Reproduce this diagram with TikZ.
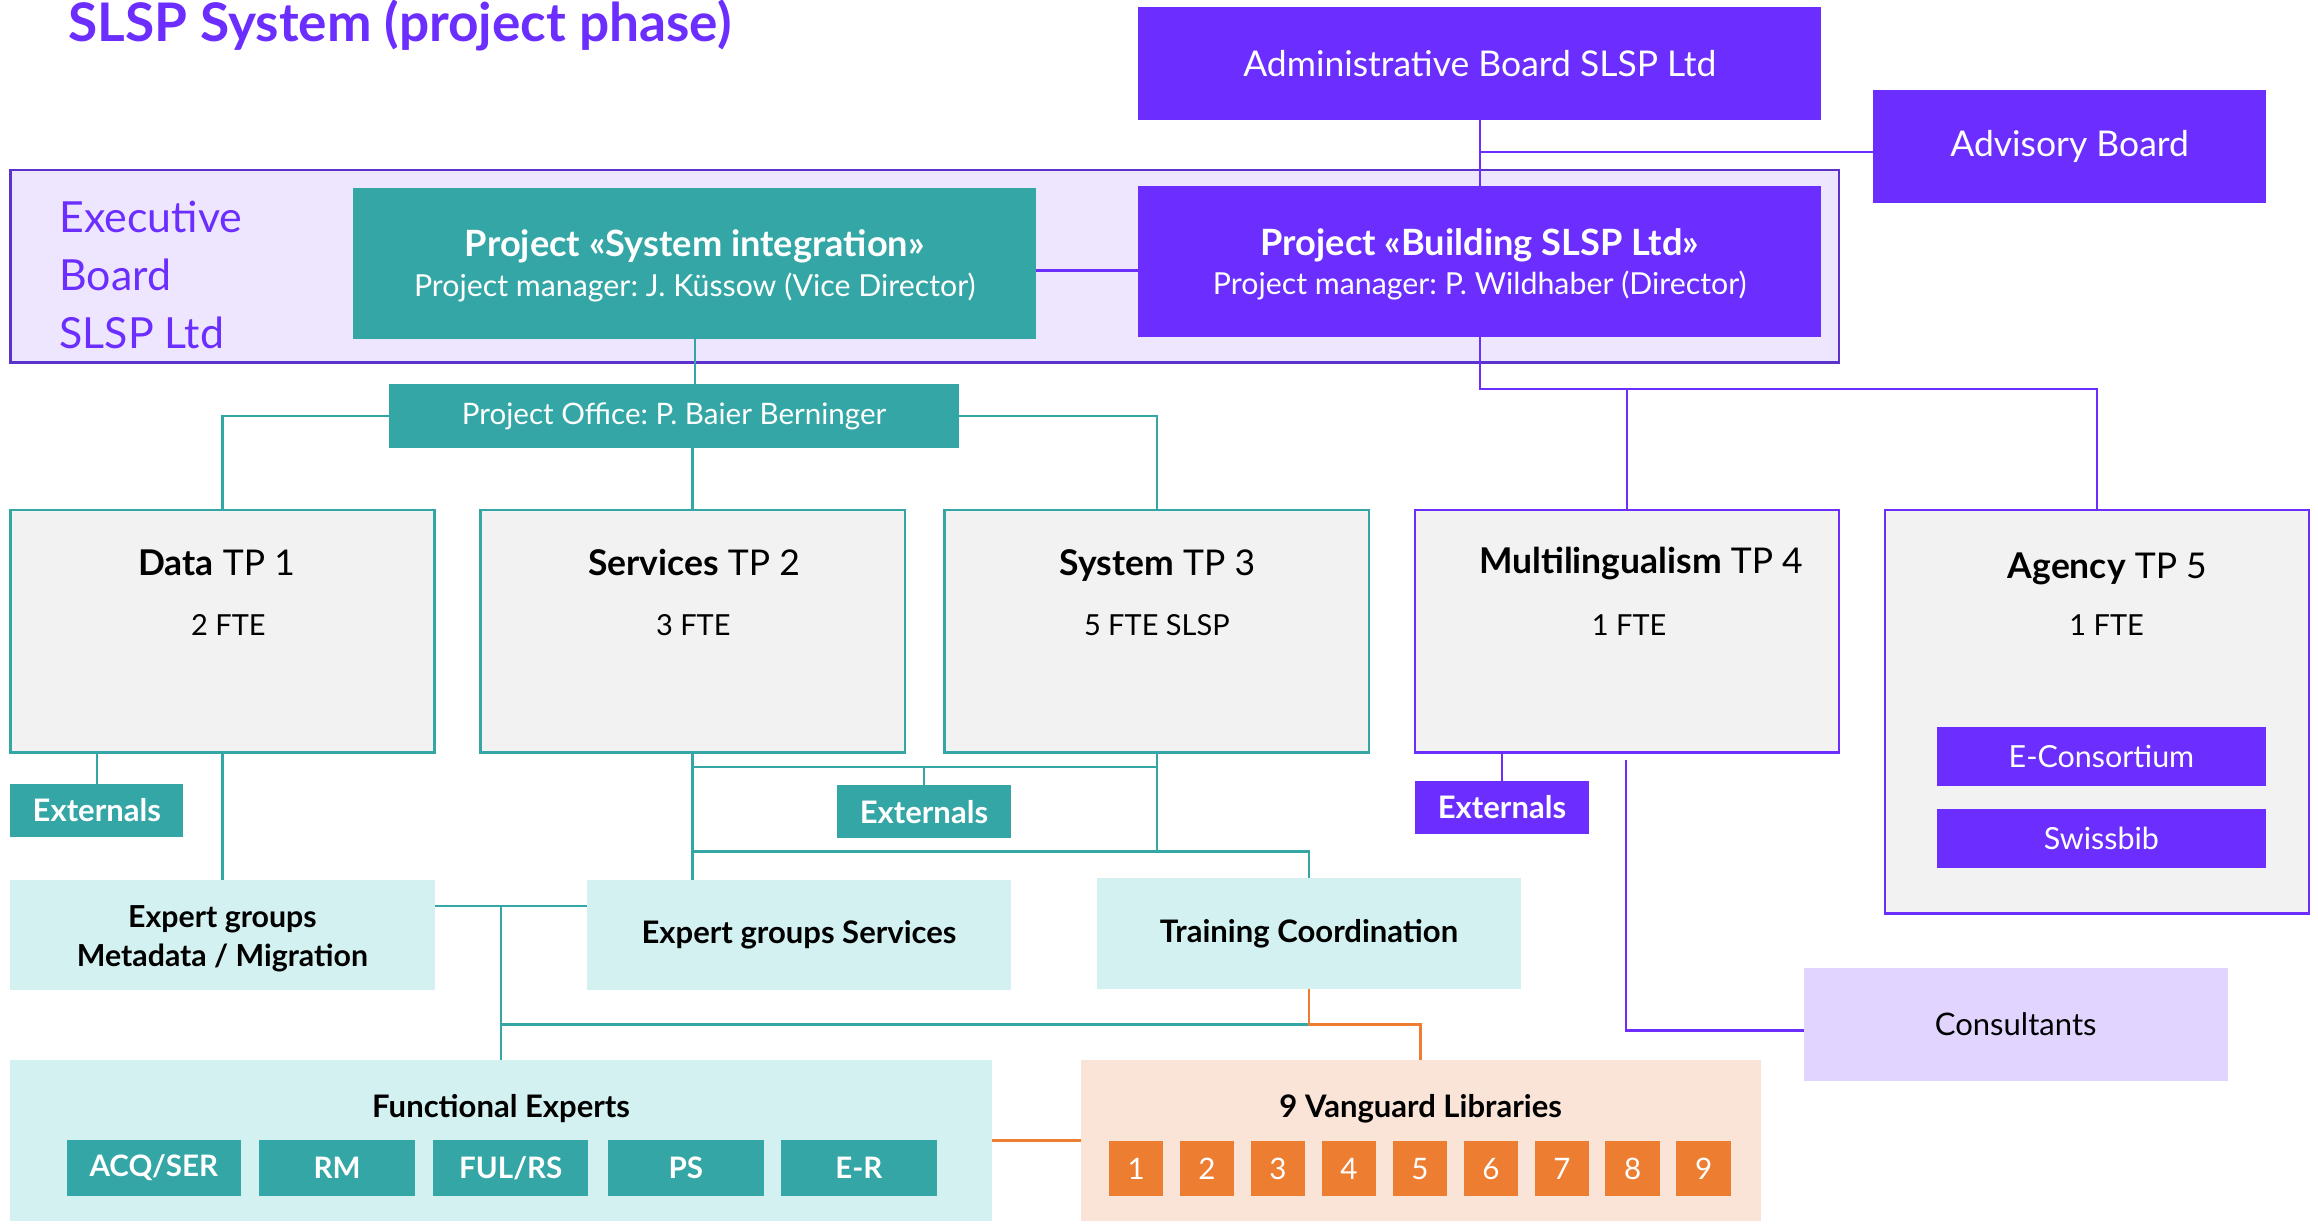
\documentclass[tikz,border=0pt]{standalone}
\usepackage{fontspec}
\setmainfont{Lato}
\frenchspacing
\definecolor{pur}{HTML}{6B2EFF}
\definecolor{purdark}{HTML}{5B32CC}
\definecolor{lav}{HTML}{EEE6FF}
\definecolor{teal1}{HTML}{35A6A6}
\definecolor{lteal}{HTML}{D2F1F0}
\definecolor{grey1}{HTML}{F2F2F2}
\definecolor{org}{HTML}{ED7D31}
\definecolor{lorg}{HTML}{FAE4D7}
\definecolor{lpur}{HTML}{E1D5FF}
\newcommand\fsz[1]{\fontsize{#1}{#1}\selectfont}
\begin{document}
\begin{tikzpicture}[x=1pt,y=-1pt,
  bx/.style={anchor=north west, inner sep=0pt, outer sep=0pt, align=center},
  pbox/.style={bx, fill=pur, text=white},
  tbox/.style={bx, fill=teal1, text=white},
  ltbox/.style={bx, fill=lteal, text=black},
  tpt/.style={bx, fill=grey1, draw=teal1, line width=1.6pt},
  tpp/.style={bx, fill=grey1, draw=pur, line width=1.6pt},
  obox/.style={bx, fill=org, text=white},
  txt/.style={inner sep=0pt, anchor=base},
  tl/.style={draw=teal1, line width=1.6pt},
  pl/.style={draw=pur, line width=1.6pt},
  ol/.style={draw=org, line width=1.6pt}]
\useasboundingbox (0,0) rectangle (1568,827.3);

% title
\node[inner sep=0pt, anchor=base west, text=pur] (title) at (46,28) {\fsz{36}\bfseries SLSP System (project phase)};

% executive frame
\node[bx, fill=lav, draw=purdark, line width=1.8pt, minimum width=1237pt, minimum height=130pt] (exec) at (7,115) {};
\node[inner sep=0pt, anchor=base west, text=pur] (ex1) at (40,157.5) {\fsz{29}Executive};
\node[inner sep=0pt, anchor=base west, text=pur] (ex2) at (40,196.5) {\fsz{29}Board};
\node[inner sep=0pt, anchor=base west, text=pur] (ex3) at (40,235.5) {\fsz{29}SLSP Ltd};

% top boxes
\node[pbox, minimum width=462pt, minimum height=76pt] (admin) at (770,5) {\fsz{24}Administrative Board SLSP Ltd};
\node[pbox, minimum width=266pt, minimum height=76pt] (adv) at (1267,61) {\fsz{24}Advisory Board};
\node[tbox, minimum width=462pt, minimum height=102pt] (si) at (239,127) {};
\node[txt, text=white] (si1) at (470,173.8) {\fsz{24.5}\bfseries Project «System integration»};
\node[txt, text=white] (si2) at (470,200.4) {\fsz{20.5}Project manager: J. Küssow (Vice Director)};
\node[pbox, minimum width=462pt, minimum height=102pt] (bld) at (770,126) {};
\node[txt, text=white] (bl1) at (1001,172.8) {\fsz{24.5}\bfseries Project «Building SLSP Ltd»};
\node[txt, text=white] (bl2) at (1001,199.4) {\fsz{20.5}Project manager: P. Wildhaber (Director)};
\node[tbox, minimum width=386pt, minimum height=43pt] (po) at (263,260) {\fsz{20}Project Office: P. Baier Berninger};

% TP boxes
\node[tpt, minimum width=287pt, minimum height=164pt] (tp1) at (7,345) {};
\node[tpt, minimum width=287pt, minimum height=164pt] (tp2) at (325,345) {};
\node[tpt, minimum width=287pt, minimum height=164pt] (tp3) at (639,345) {};
\node[tpp, minimum width=287pt, minimum height=164pt] (tp4) at (957,345) {};
\node[tpp, minimum width=287pt, minimum height=273pt] (tp5) at (1275,345) {};
\node[txt] (t1) at (146.5,389.6) {\fsz{24}\textbf{Data} TP 1};
\node[txt] (t2) at (469.5,389.6) {\fsz{24}\textbf{Services} TP 2};
\node[txt] (t3) at (783,389.6) {\fsz{24}\textbf{System} TP 3};
\node[txt] (t4) at (1110,387.6) {\fsz{24}\textbf{Multilingualism} TP 4};
\node[txt] (t5) at (1425.5,391.6) {\fsz{24}\textbf{Agency} TP 5};
\node[txt] (f1) at (154.5,430) {\fsz{19.6}2 FTE};
\node[txt] (f2) at (469,430) {\fsz{19.6}3 FTE};
\node[txt] (f3) at (782.5,430) {\fsz{19.6}5 FTE SLSP};
\node[txt] (f4) at (1102,430) {\fsz{19.6}1 FTE};
\node[txt] (f5) at (1425,430) {\fsz{19.6}1 FTE};
\node[pbox, minimum width=223pt, minimum height=40pt] (econs) at (1310,492) {\fsz{20.6}E-Consortium};
\node[pbox, minimum width=223pt, minimum height=40pt] (swiss) at (1310,547) {\fsz{20.6}Swissbib};

% externals
\node[tbox, minimum width=117pt, minimum height=36pt] (ext1) at (7,530) {\fsz{21}\bfseries Externals};
\node[tbox, minimum width=118pt, minimum height=36pt] (ext2) at (566,531) {\fsz{21}\bfseries Externals};
\node[pbox, minimum width=118pt, minimum height=36pt] (ext4) at (957,528) {\fsz{21}\bfseries Externals};

% expert groups
\node[ltbox, minimum width=287pt, minimum height=75pt] (eg1) at (7,595) {};
\node[txt] (e11) at (150.5,627.6) {\fsz{20.5}\bfseries Expert groups};
\node[txt] (e12) at (150.5,653.6) {\fsz{20.5}\bfseries Metadata / Migration};
\node[ltbox, minimum width=287pt, minimum height=75pt] (eg2) at (397,595) {\fsz{21}\bfseries Expert groups Services};
\node[ltbox, minimum width=287pt, minimum height=75pt] (tc) at (742,594) {\fsz{21}\bfseries Training Coordination};
\node[bx, fill=lpur, minimum width=287pt, minimum height=76pt] (cons) at (1220,655) {\fsz{21}Consultants};

% functional experts
\node[ltbox, minimum width=664pt, minimum height=109pt] (fe) at (7,717) {};
\node[txt] (fet) at (339,755.6) {\fsz{21}\bfseries Functional Experts};
\node[tbox, minimum width=118pt, minimum height=38pt] (s1) at (45,771) {\fsz{20}\bfseries ACQ/SER};
\node[tbox, minimum width=106pt, minimum height=38pt] (s2) at (175,771) {\fsz{20}\bfseries RM};
\node[tbox, minimum width=105pt, minimum height=38pt] (s3) at (293,771) {\fsz{20}\bfseries FUL/RS};
\node[tbox, minimum width=106pt, minimum height=38pt] (s4) at (411,771) {\fsz{20}\bfseries PS};
\node[tbox, minimum width=106pt, minimum height=38pt] (s5) at (528,771) {\fsz{20}\bfseries E-R};

% vanguard
\node[bx, fill=lorg, minimum width=460pt, minimum height=109pt] (vg) at (731,717) {};
\node[txt] (vgt) at (961,755.6) {\fsz{21}\bfseries 9 Vanguard Libraries};
\foreach \i in {1,...,9} {
  \node[obox, minimum width=37pt, minimum height=37pt] (n\i) at ({750+48*(\i-1)},772) {\fsz{20}\i};
}

% helper coordinates
\coordinate (yadv) at (0,103);
\coordinate (ysi) at (0,183);
\coordinate (ybl) at (0,263);
\coordinate (ye) at (0,519);
\coordinate (yh) at (0,576);
\coordinate (yeg) at (0,613);
\coordinate (yf) at (0,693);
\coordinate (ycons) at (0,697);
\coordinate (c4) at (1100,514);

% purple connectors
\draw[pl] (admin.south) -- (bld.north);
\draw[pl] (admin.south |- yadv) -- (adv.west |- yadv);
\draw[pl] (si.east |- ysi) -- (bld.west |- ysi);
\draw[pl] (bld.south) -- (bld.south |- ybl) -| (tp5.north);
\draw[pl] (tp4.north) -- (tp4.north |- ybl);
\draw[pl] (ext4.north) -- (ext4.north |- tp4.south);
\draw[pl] (c4) -- (c4 |- ycons) -- (cons.west |- ycons);

% teal connectors
\draw[tl] (si.south) -- (si.south |- po.north);
\draw[tl] (po.west) -| (tp1.north);
\draw[tl] (tp2.north) -- (tp2.north |- po.south);
\draw[tl] (po.east) -| (tp3.north);
\draw[tl] (ext1.north) -- (ext1.north |- tp1.south);
\draw[tl] (tp1.south) -- (eg1.north);
\draw[tl] (tp2.south) -- (tp2.south |- eg2.north);
\draw[tl] (tp2.south |- ye) -- (tp3.south |- ye);
\draw[tl] (ext2.north) -- (ext2.north |- ye);
\draw[tl] (tp3.south) -- (tp3.south |- yh);
\draw[tl] (tp2.south |- yh) -| (tc.north);
\draw[tl] (eg1.east |- yeg) -- (eg2.west |- yeg);
\draw[tl] (fe.north) -- (fe.north |- yeg);
\draw[tl] (fe.north |- yf) -- (tc.south |- yf);

% orange connectors
\draw[ol] (tc.south) -- (tc.south |- yf) -| (vg.north);
\draw[ol] (fe.east) -- (vg.west);
\end{tikzpicture}
\end{document}
